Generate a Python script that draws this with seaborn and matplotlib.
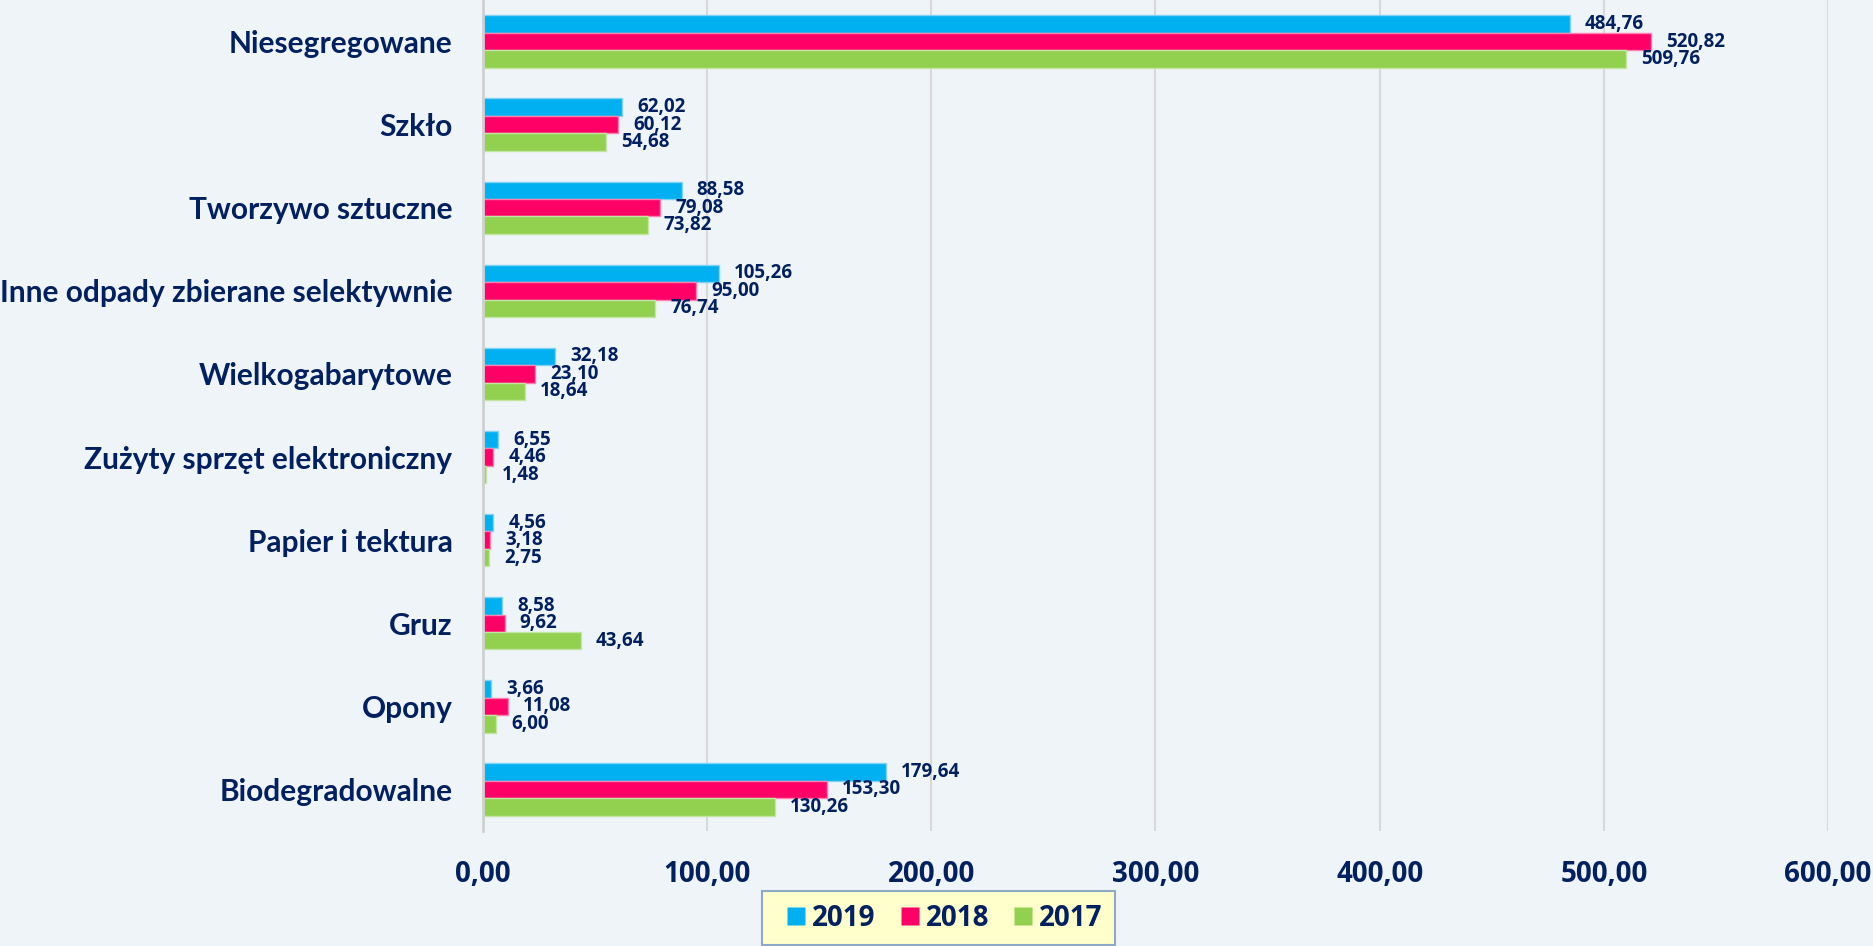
import matplotlib
matplotlib.use("Agg")
import matplotlib.pyplot as plt
from matplotlib.lines import Line2D
import seaborn as sns
import pandas as pd

categories = ["Niesegregowane", "Szkło", "Tworzywo sztuczne",
              "Inne odpady zbierane selektywnie", "Wielkogabarytowe",
              "Zużyty sprzęt elektroniczny", "Papier i tektura", "Gruz",
              "Opony", "Biodegradowalne"]
years = ["2019", "2018", "2017"]
v2019 = [484.76, 62.02, 88.58, 105.26, 32.18, 6.55, 4.56, 8.58, 3.66, 179.64]
v2018 = [520.82, 60.12, 79.08, 95.00, 23.10, 4.46, 3.18, 9.62, 11.08, 153.30]
v2017 = [509.76, 54.68, 73.82, 76.74, 18.64, 1.48, 2.75, 43.64, 6.00, 130.26]
xticks = [0, 100, 200, 300, 400, 500, 600]

colors = {"2019": "#00B0F0", "2018": "#FF0066", "2017": "#92D050"}
edges = {"2019": "#7FD3F5", "2018": "#FF7FAE", "2017": "#C3E5A2"}
navy = "#002060"
bg = "#EFF4F9"
numfont = ["Open Sans", "DejaVu Sans"]

rows = []
for y, vals in zip(years, [v2019, v2018, v2017]):
    for c, v in zip(categories, vals):
        rows.append({"Kategoria": c, "Rok": y, "Wartość": v})
df = pd.DataFrame(rows)

sns.set_theme(style="white")
plt.rcParams["font.family"] = ["Lato", "DejaVu Sans"]

fig = plt.figure(figsize=(18.74, 9.46), dpi=100, facecolor=bg)
ax = fig.add_axes([483 / 1874, 1 - 831 / 946, (1828 - 483) / 1874, 831 / 946])
ax.set_facecolor(bg)

sns.barplot(data=df, y="Kategoria", x="Wartość", hue="Rok", order=categories,
            hue_order=years, palette=colors, orient="h", width=0.63,
            saturation=1, legend=False, ax=ax)

for bars, y in zip(ax.containers, years):
    for b in bars:
        b.set_edgecolor(edges[y])
        b.set_linewidth(1.0)
    ax.bar_label(bars, labels=[f"{v:.2f}".replace(".", ",") for v in bars.datavalues],
                 padding=11, fontsize=13.5, fontweight="bold", color=navy,
                 family=numfont)

ax.set_xlim(0, 600)
ax.set_ylim(9.5, -0.5)
ax.set_xticks(xticks)
ax.set_xticklabels([f"{t:.2f}".replace(".", ",") for t in xticks])
ax.set_xlabel("")
ax.set_ylabel("")
ax.grid(axis="x", color="#D9D9D9", linewidth=1.5)
ax.set_axisbelow(True)
for s in ["top", "right", "bottom"]:
    ax.spines[s].set_visible(False)
ax.spines["left"].set_color("#D0D0D0")
ax.spines["left"].set_linewidth(2)
ax.tick_params(axis="x", length=0, pad=21, labelsize=20, labelcolor=navy)
ax.tick_params(axis="y", length=0, pad=22, labelsize=21.5, labelcolor=navy)
for t in ax.get_xticklabels():
    t.set_fontweight("bold")
    t.set_family(numfont)
for t in ax.get_yticklabels():
    t.set_fontweight("bold")

handles = [Line2D([], [], linestyle="none", marker="s", markersize=12.5,
                  markerfacecolor=colors[y], markeredgecolor="none", label=y)
           for y in years]
leg = fig.legend(handles=handles, loc="upper left",
                 bbox_to_anchor=(762 / 1874, 1 - 891 / 946), ncol=3,
                 prop={"family": numfont, "weight": "bold", "size": 20},
                 frameon=True, fancybox=False,
                 handlelength=1.55, handletextpad=-0.2,
                 columnspacing=0.45, borderpad=0.45, borderaxespad=0)
leg.get_frame().set_facecolor("#FFFFCC")
leg.get_frame().set_edgecolor("#8EA9C8")
leg.get_frame().set_linewidth(1.5)
leg.get_frame().set_alpha(1)
for t in leg.get_texts():
    t.set_color(navy)

fig.savefig("out.png", dpi=100, facecolor=bg)
